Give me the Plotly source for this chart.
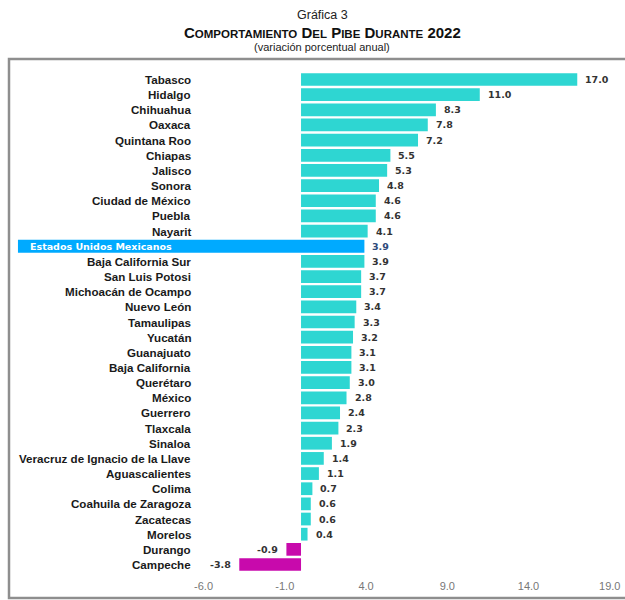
import plotly.graph_objects as go

# State GDP growth, 2022 (annual % change), ordered as presented
estados = [
    "Tabasco", "Hidalgo", "Chihuahua", "Oaxaca", "Quintana Roo", "Chiapas",
    "Jalisco", "Sonora", "Ciudad de México", "Puebla", "Nayarit",
    "Estados Unidos Mexicanos",
    "Baja California Sur", "San Luis Potosi", "Michoacán de Ocampo",
    "Nuevo León", "Tamaulipas", "Yucatán", "Guanajuato", "Baja California",
    "Querétaro", "México", "Guerrero", "Tlaxcala", "Sinaloa",
    "Veracruz de Ignacio de la Llave", "Aguascalientes", "Colima",
    "Coahuila de Zaragoza", "Zacatecas", "Morelos", "Durango", "Campeche",
]
variacion = [
    17.0, 11.0, 8.3, 7.8, 7.2, 5.5, 5.3, 4.8, 4.6, 4.6, 4.1,
    3.9,
    3.9, 3.7, 3.7, 3.4, 3.3, 3.2, 3.1, 3.1, 3.0, 2.8, 2.4, 2.3, 1.9,
    1.4, 1.1, 0.7, 0.6, 0.6, 0.4, -0.9, -3.8,
]
nacional = "Estados Unidos Mexicanos"
tick_vals = [-6, -1, 4, 9, 14, 19]
tick_text = ["-6.0", "-1.0", "4.0", "9.0", "14.0", "19.0"]

# Page geometry
W, H = 625, 600
M_L, M_R, M_T, M_B = 10, 5, 71, 27
X_RANGE = [-17.91, 19.63]
NAT_BASE = -17.42     # left end of the highlighted national band
LABEL_X = -6.65       # right edge of the state names
NAT_LABEL_X = -16.8   # start of the national label inside its band

CYAN = "#2ED6D2"
MAGENTA = "#C80AAC"
BLUE = "#00AAFF"

plot_w = W - M_L - M_R
plot_h = H - M_T - M_B


def px_x(px):
    return (px - M_L) / plot_w


def px_y(py):
    return (H - M_B - py) / plot_h


fig = go.Figure()

# State bars
st_y = [e for e in estados if e != nacional]
st_x = [v for e, v in zip(estados, variacion) if e != nacional]
fig.add_trace(go.Bar(
    y=st_y, x=st_x, orientation="h",
    marker=dict(color=[CYAN if v >= 0 else MAGENTA for v in st_x], line_width=0),
    width=0.84, hoverinfo="skip",
))

# National band: runs from the far left under its own label up to its value
nat_val = variacion[estados.index(nacional)]
fig.add_trace(go.Bar(
    y=[nacional], x=[nat_val - NAT_BASE], base=[NAT_BASE], orientation="h",
    marker=dict(color=BLUE, line_width=0), width=0.86, hoverinfo="skip",
))

annotations = []
# Category names
for e in estados:
    if e == nacional:
        annotations.append(dict(
            x=NAT_LABEL_X, y=e, xref="x", yref="y",
            text="<b>" + e.replace(" ", "&nbsp;") + "</b>", showarrow=False,
            xanchor="left", yanchor="middle",
            font=dict(family="DejaVu Sans", size=9.5, color="white"),
        ))
    else:
        annotations.append(dict(
            x=LABEL_X, y=e, xref="x", yref="y", text="<b>" + e + "</b>",
            showarrow=False, xanchor="right", yanchor="middle",
            font=dict(family="Liberation Sans", size=11.6, color="#1A1A1A"),
        ))

# Value labels at the end of each bar
for e, v in zip(estados, variacion):
    annotations.append(dict(
        x=v, y=e, xref="x", yref="y", text="<b>%.1f</b>" % v, showarrow=False,
        xanchor="left" if v >= 0 else "right", yanchor="middle",
        xshift=6 if v >= 0 else -6,
        font=dict(family="DejaVu Sans", size=9.5,
                  color="#2E4A7A" if e == nacional else "#333333"),
    ))

# Titles (small-caps heading)
sc = "font-size:11.5px"
main_title = ("<b>C<span style='%s'>OMPORTAMIENTO</span> D<span style='%s'>EL</span> "
              "P<span style='%s'>IBE</span> D<span style='%s'>URANTE</span> 2022</b>"
              % (sc, sc, sc, sc))
annotations += [
    dict(x=px_x(322), y=px_y(15), xref="paper", yref="paper", text="Gráfica 3",
         showarrow=False, xanchor="center", yanchor="middle",
         font=dict(family="Liberation Sans", size=12.5, color="#222222")),
    dict(x=px_x(323), y=px_y(32), xref="paper", yref="paper", text=main_title,
         showarrow=False, xanchor="center", yanchor="middle",
         font=dict(family="Liberation Sans", size=15, color="#111111")),
    dict(x=px_x(322), y=px_y(47), xref="paper", yref="paper",
         text="(variación porcentual anual)", showarrow=False,
         xanchor="center", yanchor="middle",
         font=dict(family="Liberation Sans", size=11, color="#222222")),
]

# Frame around the chart body
shapes = [
    dict(type="rect", xref="paper", yref="paper",
         x0=px_x(9), x1=px_x(640), y0=px_y(598), y1=px_y(59),
         line=dict(color="#8E8E8E", width=2.5), fillcolor="rgba(0,0,0,0)",
         layer="below"),
]

fig.update_layout(
    width=W, height=H,
    margin=dict(l=M_L, r=M_R, t=M_T, b=M_B),
    paper_bgcolor="white", plot_bgcolor="white",
    showlegend=False, barmode="overlay",
    annotations=annotations, shapes=shapes,
    xaxis=dict(range=X_RANGE, tickvals=tick_vals, ticktext=tick_text,
               showgrid=False, zeroline=False, showline=False, ticks="",
               ticklabelstandoff=5,
               tickfont=dict(family="Liberation Sans", size=11, color="#777777")),
    yaxis=dict(categoryorder="array", categoryarray=estados, autorange="reversed",
               showticklabels=False, showgrid=False, zeroline=False,
               showline=False, ticks=""),
)

fig.write_html("out.html")
